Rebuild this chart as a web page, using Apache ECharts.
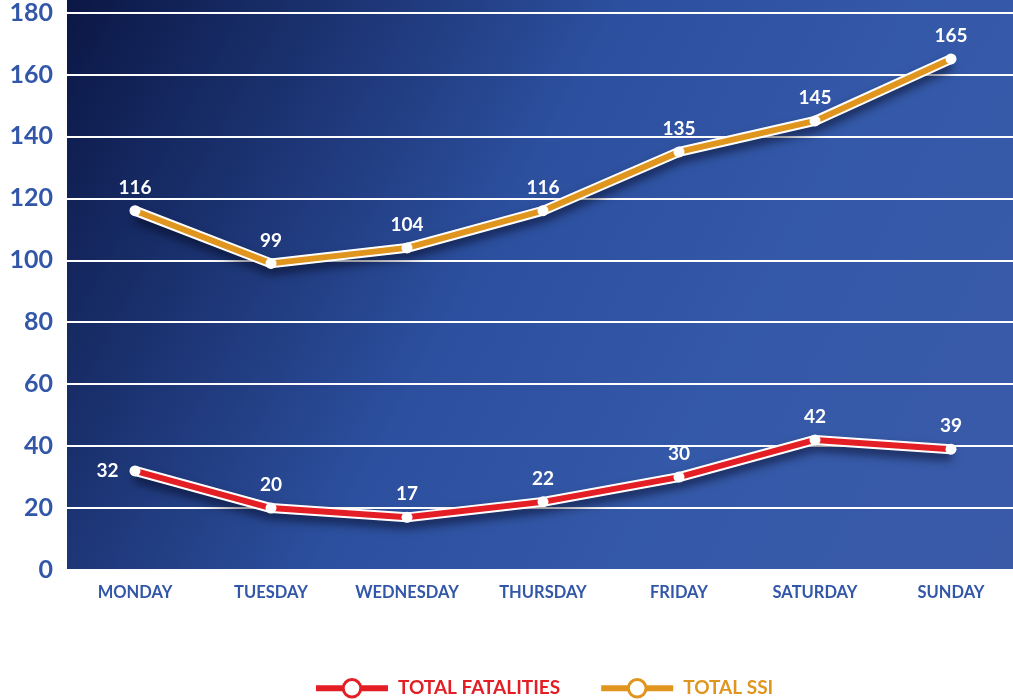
<!DOCTYPE html>
<html>
<head>
<meta charset="utf-8">
<script src="https://cdn.jsdelivr.net/npm/echarts@6/dist/echarts.min.js"></script>
<style>
  html, body { margin: 0; padding: 0; background: #fff; overflow: hidden; }
  /* 容器比窗口略宽, 让最后一个类目落到右侧边缘附近 */
  #chart { width: 1019px; height: 700px; }
</style>
</head>
<body>
<div id="chart"></div>
<script>
// 数据
var days = ['MONDAY', 'TUESDAY', 'WEDNESDAY', 'THURSDAY', 'FRIDAY', 'SATURDAY', 'SUNDAY'];
var fatalities = [32, 20, 17, 22, 30, 42, 39];
var ssi = [116, 99, 104, 116, 135, 145, 165];

var RED = '#e31e24';
var ORANGE = '#e0951f';
var AXIS_BLUE = '#3357a8';
var FONT = 'Lato, "Open Sans", sans-serif';

// 白色描边线(底层), 带阴影
function outline(data) {
  return {
    type: 'line',
    data: data,
    z: 2,
    symbol: 'none',
    silent: true,
    lineStyle: {
      color: '#fff',
      width: 10,
      shadowColor: 'rgba(0,0,20,0.55)',
      shadowBlur: 10,
      shadowOffsetY: 6
    }
  };
}

// 彩色主线
function mainLine(name, data, color, labelPos) {
  return {
    name: name,
    type: 'line',
    data: data,
    z: 3,
    symbol: 'circle',
    symbolSize: 11,
    itemStyle: { color: '#fff', borderColor: '#fff', borderWidth: 0 },
    lineStyle: { color: color, width: 6 },
    label: {
      show: true,
      position: labelPos,
      distance: 8,
      color: '#fff',
      fontFamily: FONT,
      fontWeight: 'bold',
      fontSize: 19
    }
  };
}

var chart = echarts.init(document.getElementById('chart'), null, { renderer: 'canvas' });

var fatalSeries = mainLine('TOTAL FATALITIES', fatalities, RED, 'top');
fatalSeries.data = fatalities.map(function (v, i) {
  return i === 0 ? { value: v, label: { position: 'left', distance: 11 } } : v;
});

chart.setOption({
  animation: false,
  graphic: [{
    type: 'rect',
    z: -10,
    silent: true,
    shape: { x: 67, y: 0, width: 952, height: 570 },
    style: {
      fill: new echarts.graphic.LinearGradient(0, 0, 1, 0.9, [
        { offset: 0, color: '#0b1745' },
        { offset: 0.45, color: '#2c4f9e' },
        { offset: 0.7, color: '#3459a8' },
        { offset: 1, color: '#3a5aa8' }
      ])
    }
  }],
  grid: { left: 67, right: 0, top: 12, bottom: 130 },
  legend: {
    top: 673,
    left: 308,
    itemWidth: 72,
    itemHeight: 22,
    itemGap: 38,
    textStyle: { fontFamily: FONT, fontWeight: 'bold', fontSize: 19, padding: [0, 0, 0, 5] },
    data: [
      { name: 'TOTAL FATALITIES', textStyle: { color: RED }, itemStyle: { color: '#fff', borderColor: RED, borderWidth: 3 }, lineStyle: { color: RED, width: 6 } },
      { name: 'TOTAL SSI', textStyle: { color: ORANGE }, itemStyle: { color: '#fff', borderColor: ORANGE, borderWidth: 3 }, lineStyle: { color: ORANGE, width: 6 } }
    ]
  },
  xAxis: {
    type: 'category',
    data: days,
    axisLine: { show: false },
    axisTick: { show: false },
    axisLabel: {
      color: AXIS_BLUE,
      fontFamily: FONT,
      fontWeight: 'bold',
      fontSize: 16.5,
      margin: 14
    }
  },
  yAxis: {
    type: 'value',
    min: 0,
    max: 180,
    interval: 20,
    axisLine: { show: false },
    axisTick: { show: false },
    splitLine: { lineStyle: { color: '#ffffff', width: 2 } },
    axisLabel: {
      color: AXIS_BLUE,
      fontFamily: FONT,
      fontWeight: 'bold',
      fontSize: 25,
      margin: 14
    }
  },
  series: [
    outline(ssi),
    outline(fatalities),
    mainLine('TOTAL SSI', ssi, ORANGE, 'top'),
    fatalSeries
  ]
});
</script>
</body>
</html>
